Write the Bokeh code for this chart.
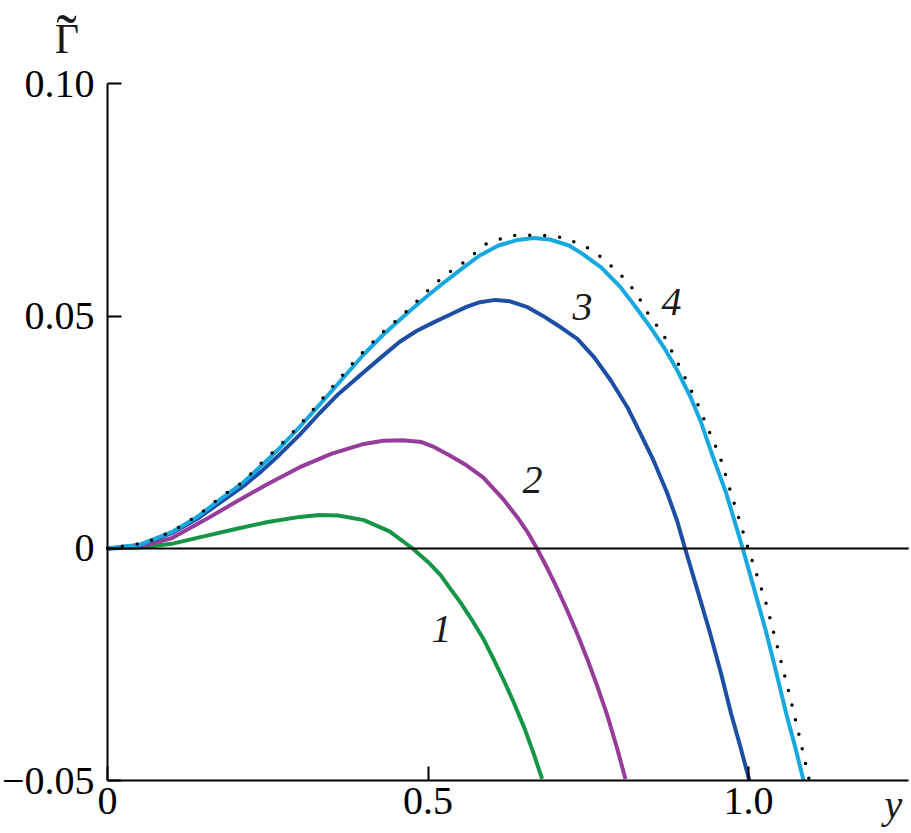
from bokeh.plotting import figure
from bokeh.models import Range1d, FixedTicker, Label
from bokeh.embed import file_html
from bokeh.resources import INLINE

# ---- data ----
x_c1 = [0.00, 0.05, 0.10, 0.15, 0.20, 0.25, 0.30, 0.33, 0.36, 0.40, 0.44, 0.476,
        0.50, 0.52, 0.535, 0.55, 0.57, 0.587, 0.603, 0.618, 0.634, 0.65, 0.665, 0.678]
y_c1 = [0.0000, 0.0002, 0.0010, 0.0026, 0.0042, 0.0057, 0.0068, 0.0072, 0.0071, 0.0061,
        0.0037, 0.0000, -0.0029, -0.0058, -0.0087, -0.0115, -0.0157, -0.0196, -0.0240,
        -0.0283, -0.0332, -0.0385, -0.0442, -0.0496]

x_c2 = [0.00, 0.05, 0.10, 0.15, 0.20, 0.25, 0.30, 0.35, 0.40, 0.43, 0.46, 0.49, 0.51,
        0.534, 0.56, 0.586, 0.618, 0.639, 0.655, 0.670, 0.686, 0.7015, 0.717, 0.733,
        0.748, 0.764, 0.7795, 0.795, 0.808]
y_c2 = [0.0000, 0.0004, 0.0022, 0.0060, 0.0100, 0.0139, 0.0175, 0.0204, 0.0225, 0.0232,
        0.0233, 0.0229, 0.0218, 0.0200, 0.0179, 0.0153, 0.0105, 0.0068, 0.0036, 0.0000,
        -0.0042, -0.0086, -0.0133, -0.0184, -0.0236, -0.0296, -0.0358, -0.0430, -0.0496]

x_c3 = [0.00, 0.05, 0.10, 0.14, 0.18, 0.21, 0.24, 0.27, 0.30, 0.33, 0.36, 0.40, 0.43,
        0.456, 0.482, 0.508, 0.534, 0.56, 0.581, 0.605, 0.628, 0.654, 0.68, 0.707, 0.733,
        0.759, 0.785, 0.811, 0.8315, 0.852, 0.873, 0.889, 0.901, 0.920, 0.939, 0.957,
        0.973, 0.988, 1.0015]
y_c3 = [0.0000, 0.0007, 0.0033, 0.0064, 0.0103, 0.0132, 0.0166, 0.0204, 0.0245, 0.0290,
        0.0332, 0.0380, 0.0415, 0.0445, 0.0468, 0.0486, 0.0503, 0.0520, 0.0530, 0.0535,
        0.0532, 0.0520, 0.0500, 0.0476, 0.0451, 0.0412, 0.0362, 0.0304, 0.0247, 0.0189,
        0.0120, 0.0058, 0.0000, -0.0088, -0.0177, -0.0268, -0.0356, -0.0430, -0.0500]

x_c4 = [0.00, 0.05, 0.10, 0.14, 0.18, 0.21, 0.24, 0.27, 0.30, 0.33, 0.36, 0.40, 0.43,
        0.46, 0.49, 0.52, 0.55, 0.58, 0.61, 0.64, 0.665, 0.69, 0.72, 0.741, 0.77, 0.80,
        0.826, 0.847, 0.868, 0.889, 0.9095, 0.925, 0.941, 0.965, 0.991, 1.009, 1.027,
        1.043, 1.059, 1.073, 1.086]
y_c4 = [0.0000, 0.0008, 0.0035, 0.0068, 0.0110, 0.0140, 0.0178, 0.0218, 0.0262, 0.0308,
        0.0355, 0.0418, 0.0460, 0.0497, 0.0533, 0.0567, 0.0599, 0.0630, 0.0652, 0.0664,
        0.0668, 0.0665, 0.0652, 0.0634, 0.0605, 0.0563, 0.0516, 0.0476, 0.0433, 0.0383,
        0.0326, 0.0275, 0.0211, 0.0120, 0.0000, -0.0088, -0.0177, -0.0265, -0.0356,
        -0.0428, -0.0500]

x_dot = [0.00, 0.059, 0.101, 0.14, 0.179, 0.21, 0.238, 0.264, 0.29, 0.316, 0.353, 0.391,
         0.43, 0.46, 0.485, 0.511, 0.534, 0.56, 0.59, 0.627, 0.651, 0.677, 0.700, 0.720,
         0.738, 0.756, 0.769, 0.798, 0.824, 0.843, 0.866, 0.885, 0.903, 0.920, 0.938,
         0.955, 0.973, 0.9995, 1.027, 1.049, 1.066, 1.082, 1.095]
y_dot = [0.0000, 0.0012, 0.0037, 0.0070, 0.0113, 0.0142, 0.0181, 0.0215, 0.0251, 0.0291,
         0.0351, 0.0412, 0.0466, 0.0502, 0.0535, 0.0570, 0.0595, 0.0620, 0.0655, 0.0673,
         0.0674, 0.0674, 0.0672, 0.0664, 0.0655, 0.0642, 0.0628, 0.0593, 0.0552, 0.0506,
         0.0463, 0.0412, 0.0362, 0.0313, 0.0254, 0.0200, 0.0118, 0.0000, -0.0116, -0.0233,
         -0.0326, -0.0420, -0.0500]

x_ticks = [0.0, 0.5, 1.0]
x_tick_labels = ["0", "0.5", "1.0"]
y_ticks = [-0.05, 0.0, 0.05, 0.10]
y_tick_labels = ["\u22120.05", "0", "0.05", "0.10"]
x_axis_span = [0.0, 1.25]
y_axis_span = [-0.05, 0.10]
zero_line_y = [0.0, 0.0]
curve_names = ["1", "2", "3", "4"]
x_label = "y"
y_label = "\u0393"
y_label_accent = "\u02dc"

# ---- figure: the frame fills the canvas, axes sit at fixed data positions ----
SERIF = "Liberation Serif"
p = figure(width=910, height=832,
           x_range=Range1d(-0.16693, 1.25273), y_range=Range1d(-0.06112, 0.11793),
           output_backend="svg", toolbar_location=None, min_border=0)
p.outline_line_color = None
p.grid.visible = False
p.background_fill_color = "white"
p.border_fill_color = "white"

for ax in (p.xaxis[0], p.yaxis[0]):
    ax.axis_line_color = "black"
    ax.axis_line_width = 2
    ax.major_tick_in = 14
    ax.major_tick_out = 0
    ax.major_tick_line_width = 2
    ax.major_tick_line_color = "black"
    ax.minor_tick_in = 0
    ax.minor_tick_out = 0
    ax.major_label_text_font = SERIF
    ax.major_label_text_font_size = "40px"
    ax.major_label_text_color = "black"

p.xaxis.fixed_location = y_axis_span[0]
p.xaxis.bounds = tuple(x_axis_span)
p.xaxis.ticker = FixedTicker(ticks=x_ticks)
p.xaxis.major_label_overrides = dict(zip(x_ticks, x_tick_labels))
p.xaxis.major_label_standoff = 7

p.yaxis.fixed_location = x_axis_span[0]
p.yaxis.bounds = tuple(y_axis_span)
p.yaxis.ticker = FixedTicker(ticks=y_ticks)
p.yaxis.major_label_overrides = dict(zip(y_ticks, y_tick_labels))
p.yaxis.major_label_standoff = 13

p.line(x_c1, y_c1, line_color="#149646", line_width=4)
p.line(x_c2, y_c2, line_color="#963c9b", line_width=4)
p.line(x_c3, y_c3, line_color="#1c4fa3", line_width=4)
p.line(x_c4, y_c4, line_color="#17a8e0", line_width=4)
p.line(x_dot, y_dot, line_color="black", line_width=3.5, line_dash="0 15", line_cap="round")
p.line(x_axis_span, zero_line_y, line_color="black", line_width=2)

label_pos = [(0.521, -0.0173), (0.663, 0.0147), (0.741, 0.0520), (0.880, 0.0530)]
for name, (lx, ly) in zip(curve_names, label_pos):
    p.add_layout(Label(x=lx, y=ly, text=name, text_font=SERIF, text_font_style="italic",
                       text_font_size="40px", text_align="center", text_baseline="alphabetic",
                       text_color="#1a1a1a"))

p.add_layout(Label(x=1.226, y=-0.0552, text=x_label, text_font=SERIF, text_font_style="italic",
                   text_font_size="40px", text_align="center", text_baseline="alphabetic",
                   text_color="#1a1a1a"))
p.add_layout(Label(x=-0.0632, y=0.1096, text=y_label, text_font=SERIF,
                   text_font_size="42px", text_align="center", text_baseline="alphabetic",
                   text_color="#1a1a1a"))
p.add_layout(Label(x=-0.0640, y=0.1102, text=y_label_accent, text_font=SERIF,
                   text_font_size="62px", text_align="center", text_baseline="alphabetic",
                   text_color="#1a1a1a"))

open("out.html", "w").write(file_html(p, INLINE))
